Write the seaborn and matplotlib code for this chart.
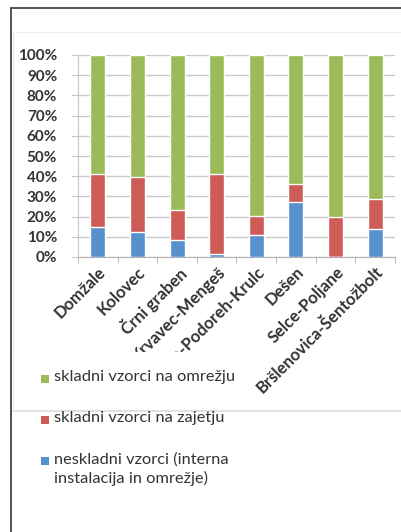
import matplotlib
matplotlib.use("Agg")
import matplotlib.pyplot as plt
from matplotlib.patches import Rectangle
from matplotlib.lines import Line2D
from matplotlib.ticker import PercentFormatter, MultipleLocator
import pandas as pd
import seaborn as sns

# données (en %)
zajetja = ["Domžale", "Kolovec", "Črni graben", "Krvavec-Mengeš",
           "Ihan-Podoreh-Krulc", "Dešen", "Selce-Poljane", "Bršlenovica-Šentožbolt"]
neskladni = [15, 12.5, 8.5, 1.5, 11, 27, 0, 14]
skladni_zajetje = [26, 27, 15, 39.5, 9.5, 9, 20, 14.5]
skladni_omrezje = [59, 60.5, 76.5, 59, 79.5, 64, 80, 71.5]

legend_labels = ["skladni vzorci na omrežju", "skladni vzorci na zajetju",
                 "neskladni vzorci (interna\ninstalacija in omrežje)"]
colors = ["#9BBB59", "#CD5C57", "#5690CD"]

df = pd.DataFrame({"zajetje": zajetja,
                   "nesk": neskladni,
                   "zaj": skladni_zajetje,
                   "omr": skladni_omrezje})
df["c1"] = df["nesk"]
df["c2"] = df["nesk"] + df["zaj"]
df["c3"] = df["c2"] + df["omr"]

sns.set_style("white")
plt.rcParams["font.family"] = ["Lato", "DejaVu Sans"]

W, H = 402, 532
fig = plt.figure(figsize=(W / 100, H / 100), dpi=100)

def fx(x):
    return x / W

def fy(y):
    return 1 - y / H

# zone du graphique
ax = fig.add_axes([fx(78), fy(257), fx(395) - fx(78), fy(55) - fy(257)])

for col, c in zip(["c3", "c2", "c1"], colors):
    sns.barplot(data=df, x="zajetje", y=col, color=c, width=0.38,
                saturation=1, ax=ax, zorder=3)

ax.set_ylim(0, 100)
ax.set_xlim(-0.5, len(zajetja) - 0.5)
ax.yaxis.set_major_locator(MultipleLocator(10))
ax.yaxis.set_major_formatter(PercentFormatter(decimals=0))
ax.grid(axis="y", color="#C8C8C8", linewidth=1, zorder=0)
ax.set_xlabel("")
ax.set_ylabel("")
for s in ["top", "right"]:
    ax.spines[s].set_visible(False)
ax.spines["left"].set_color("#C8C8C8")
ax.spines["bottom"].set_color("#B0B0B0")

ax.set_xticks([i + 0.5 for i in range(-1, len(zajetja))], minor=True)
ax.tick_params(axis="x", which="minor", length=4, color="#B0B0B0", bottom=True)
ax.tick_params(axis="x", which="major", length=0, pad=5)
ax.tick_params(axis="y", length=5, color="#C8C8C8", left=True, pad=10)
ax.set_xticks(range(len(zajetja)))
ax.set_xticklabels(zajetja, rotation=45, ha="right", rotation_mode="anchor",
                   fontsize=12, fontweight="bold", color="#333333")
for t in ax.get_yticklabels():
    t.set_fontsize(11)
    t.set_fontweight("bold")
    t.set_color("#333333")

# cadre
fig.add_artist(Line2D([fx(11), fx(11)], [fy(8), fy(532)], color="#444444", lw=1.3))
fig.add_artist(Line2D([fx(11), fx(402)], [fy(8), fy(8)], color="#444444", lw=1.3))
fig.add_artist(Line2D([fx(13), fx(402)], [fy(32), fy(32)], color="#F0F0F0", lw=1))
fig.add_artist(Line2D([fx(13), fx(13)], [fy(32), fy(411)], color="#EBEBEB", lw=1))
fig.add_artist(Line2D([fx(13), fx(402)], [fy(411), fy(411)], color="#DDDDDD", lw=1.2))

# boîte de légende blanche qui cache une partie des étiquettes
fig.add_artist(Rectangle((fx(14), fy(410)), fx(245) - fx(14), fy(352) - fy(410),
                         facecolor="white", edgecolor="none", zorder=5))

# légende
leg_y = [379, 420, 461]
for lab, c, y in zip(legend_labels, colors, leg_y):
    fig.add_artist(Rectangle((fx(41), fy(y + 4)), fx(8), 8 / H,
                             facecolor=c, edgecolor="none", zorder=6))
    fig.text(fx(54), fy(y - 9), lab, fontsize=11.8, color="#333333",
             va="top", ha="left", linespacing=1.4, zorder=6)

fig.savefig("out.png", dpi=100)
